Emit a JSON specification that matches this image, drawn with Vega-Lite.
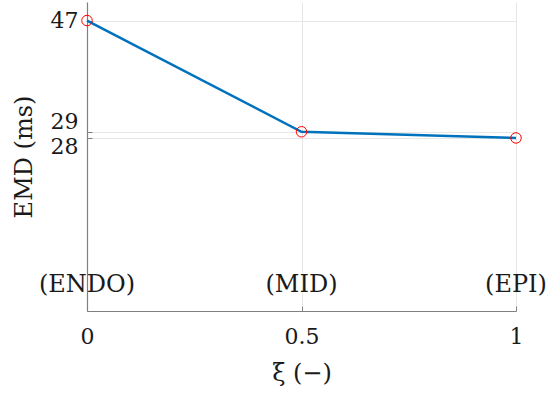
{
  "$schema": "https://vega.github.io/schema/vega-lite/v6.json",
  "width": 429,
  "height": 309,
  "autosize": "none",
  "padding": {"left": 87, "top": 2, "right": 33, "bottom": 83},
  "background": "white",
  "config": {
    "view": {"stroke": null},
    "font": "DejaVu Serif",
    "axis": {
      "labelFont": "DejaVu Serif",
      "titleFont": "DejaVu Serif",
      "labelFontSize": 22,
      "titleFontSize": 24,
      "titleFontWeight": "normal",
      "labelColor": "#1a1a1a",
      "titleColor": "#1a1a1a",
      "domainColor": "#808080",
      "tickColor": "#808080",
      "gridColor": "#e6e6e6",
      "gridWidth": 1,
      "domainWidth": 1.2
    }
  },
  "datasets": {
    "emd": [
      {"xi": 0, "emd": 47},
      {"xi": 0.5, "emd": 29},
      {"xi": 1, "emd": 28}
    ],
    "layers": [
      {"xi": 0, "pos": 4.2, "label": "(ENDO)"},
      {"xi": 0.5, "pos": 4.2, "label": "(MID)"},
      {"xi": 1, "pos": 4.2, "label": "(EPI)"}
    ]
  },
  "layer": [
    {
      "data": {"name": "emd"},
      "mark": {"type": "line", "color": "#0072BD", "strokeWidth": 2.5},
      "encoding": {
        "x": {
          "field": "xi", "type": "quantitative",
          "scale": {"domain": [0, 1], "nice": false},
          "axis": {
            "values": [0, 0.5, 1],
            "format": "~g",
            "title": "ξ (−)",
            "grid": true,
            "tickSize": -5,
            "labelPadding": 20,
            "titlePadding": 14,
            "labelFlush": false
          }
        },
        "y": {
          "field": "emd", "type": "quantitative",
          "scale": {"domain": [0, 50], "nice": false, "zero": false},
          "axis": {
            "values": [28, 29, 47],
            "title": "EMD (ms)",
            "grid": true,
            "tickSize": -5,
            "labelPadding": 14,
            "titlePadding": 14,
            "labelOverlap": false,
            "labelBaseline": {"expr": "datum.value == 29 ? 'bottom' : (datum.value == 28 ? 'top' : 'middle')"},
            "labelOffset": {"expr": "datum.value == 29 ? 2 : (datum.value == 28 ? -1 : 0)"}
          }
        }
      }
    },
    {
      "data": {"name": "emd"},
      "mark": {"type": "point", "shape": "circle", "filled": false, "color": "#ff0000", "size": 110, "strokeWidth": 1, "opacity": 1},
      "encoding": {
        "x": {"field": "xi", "type": "quantitative"},
        "y": {"field": "emd", "type": "quantitative"}
      }
    },
    {
      "data": {"name": "layers"},
      "mark": {"type": "text", "fontSize": 24, "font": "DejaVu Serif", "color": "#1a1a1a", "baseline": "middle", "align": "center"},
      "encoding": {
        "x": {"field": "xi", "type": "quantitative"},
        "y": {"field": "pos", "type": "quantitative"},
        "text": {"field": "label"}
      }
    }
  ]
}
